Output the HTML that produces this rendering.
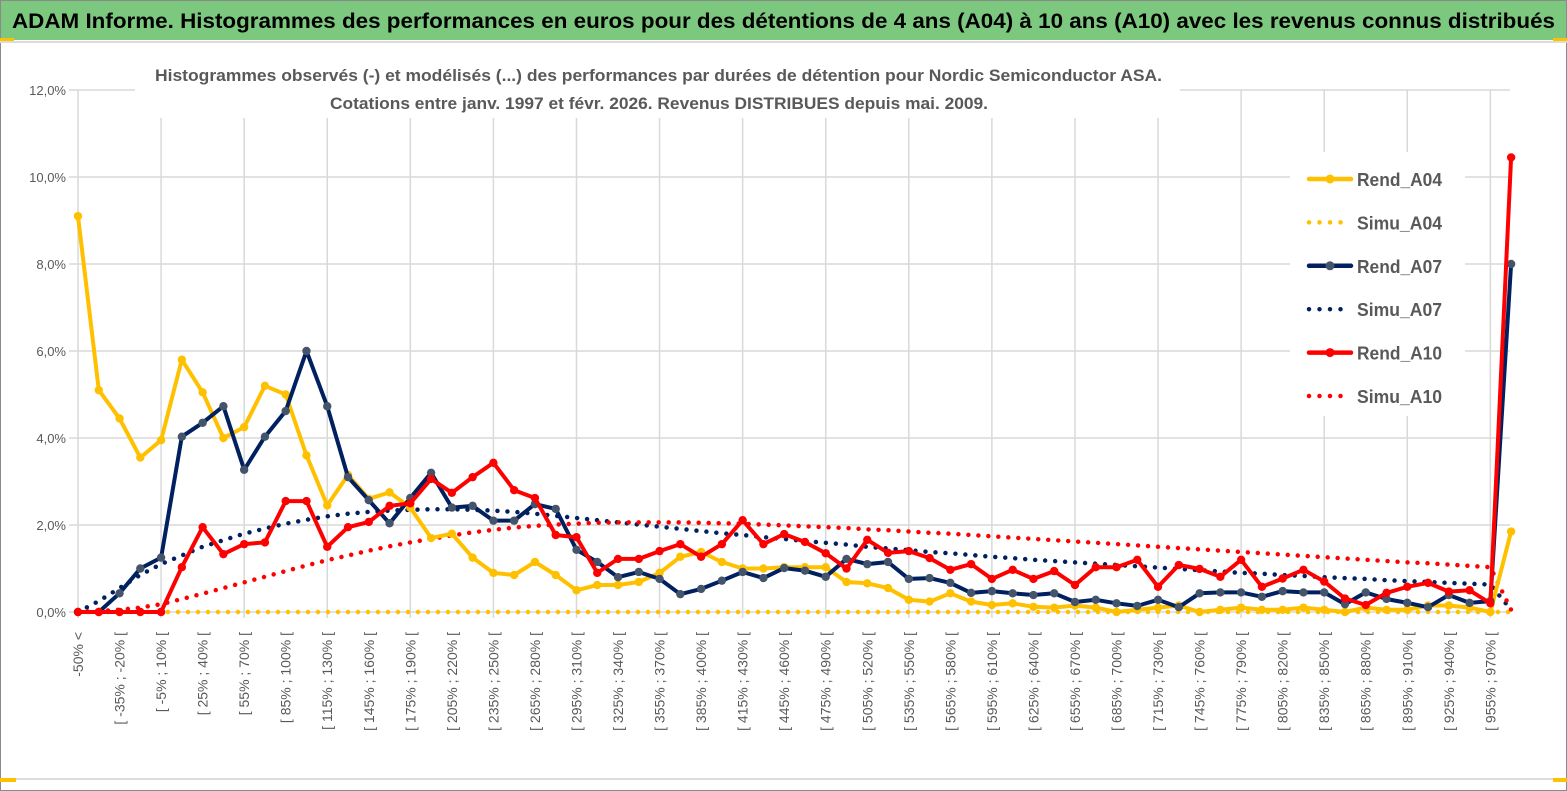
<!DOCTYPE html>
<html><head><meta charset="utf-8">
<style>
html,body{margin:0;padding:0;background:#fff;}
svg{display:block;font-family:"Liberation Sans",sans-serif;}
</style></head>
<body>
<svg id="chart" width="1567" height="791" viewBox="0 0 1567 791">
  <rect x="0" y="0" width="1567" height="791" fill="#ffffff"/>
  <rect x="0.5" y="0.5" width="1566" height="790" fill="none" stroke="#8a8a8a"/>
  <rect x="1" y="1" width="1565" height="39" fill="#7dc87f"/>
  <rect x="0" y="38" width="14" height="4" fill="#ffc000"/>
  <rect x="1553" y="38" width="14" height="4" fill="#ffc000"/>
  <line x1="0" y1="42" x2="1567" y2="42" stroke="#dcdcdc" stroke-width="2"/>
  <text x="12" y="28" font-size="21" font-weight="bold" fill="#000" textLength="1543" lengthAdjust="spacingAndGlyphs">ADAM Informe. Histogrammes des performances en euros pour des détentions de 4 ans (A04) à 10 ans (A10) avec les revenus connus distribués</text>
  <line x1="0" y1="779" x2="1567" y2="779" stroke="#dcdcdc" stroke-width="2"/>
  <rect x="0" y="778" width="16" height="4" fill="#ffc000"/>
  <rect x="1553" y="778" width="14" height="4" fill="#ffc000"/>
  <g id="grid"></g>
  <rect x="135" y="58" width="1045" height="60" fill="#fff"/>
  <text x="155" y="81" font-size="17" font-weight="bold" fill="#595959" textLength="1007" lengthAdjust="spacingAndGlyphs">Histogrammes observés (-) et modélisés (...) des performances par durées de détention pour Nordic Semiconductor ASA.</text>
  <text x="330" y="109" font-size="17" font-weight="bold" fill="#595959" textLength="658" lengthAdjust="spacingAndGlyphs">Cotations entre janv. 1997 et févr. 2026. Revenus DISTRIBUES depuis mai. 2009.</text>
  <g id="yaxis"></g>
  <g id="xaxis"></g>
  <g id="series"></g>
  <g id="legend"></g>
</svg>
<script>
const yTicks = [0, 2, 4, 6, 8, 10, 12];
const rendA04 = [9.1,5.1,4.45,3.55,3.95,5.8,5.05,4.0,4.25,5.2,5.0,3.6,2.45,3.15,2.6,2.75,2.4,1.7,1.8,1.25,0.9,0.85,1.15,0.85,0.5,0.62,0.62,0.69,0.9,1.27,1.38,1.15,1.0,1.0,1.03,1.03,1.03,0.69,0.66,0.55,0.28,0.24,0.43,0.24,0.16,0.2,0.12,0.1,0.15,0.1,0.0,0.05,0.1,0.15,0.0,0.05,0.1,0.05,0.05,0.1,0.05,0.0,0.1,0.05,0.05,0.15,0.15,0.1,0.0,1.85];
const simuA04 = [0,0,0,0,0,0,0,0,0,0,0,0,0,0,0,0,0,0,0,0,0,0,0,0,0,0,0,0,0,0,0,0,0,0,0,0,0,0,0,0,0,0,0,0,0,0,0,0,0,0,0,0,0,0,0,0,0,0,0,0,0,0,0,0,0,0,0,0,0,0];
const rendA07 = [0,0,0.43,1.0,1.25,4.03,4.35,4.73,3.27,4.03,4.62,6.0,4.73,3.1,2.57,2.04,2.62,3.2,2.4,2.44,2.1,2.1,2.48,2.37,1.43,1.15,0.8,0.92,0.76,0.41,0.53,0.72,0.92,0.78,1.01,0.95,0.81,1.22,1.1,1.15,0.76,0.78,0.67,0.44,0.48,0.43,0.39,0.43,0.23,0.28,0.2,0.14,0.28,0.11,0.43,0.45,0.45,0.35,0.48,0.45,0.45,0.18,0.45,0.3,0.21,0.11,0.39,0.21,0.25,8.0];
const simuA07 = [0,0.25,0.55,0.85,1.1,1.3,1.5,1.65,1.8,1.92,2.03,2.12,2.2,2.26,2.3,2.33,2.35,2.36,2.36,2.35,2.33,2.3,2.26,2.21,2.16,2.11,2.06,2.01,1.96,1.91,1.86,1.81,1.77,1.72,1.68,1.63,1.59,1.55,1.5,1.46,1.42,1.38,1.35,1.31,1.27,1.24,1.2,1.17,1.14,1.11,1.08,1.05,1.02,0.99,0.96,0.93,0.9,0.88,0.85,0.83,0.8,0.78,0.76,0.73,0.71,0.69,0.67,0.65,0.63,0.05];
const rendA10 = [0,0,0,0,0,1.03,1.95,1.33,1.56,1.6,2.55,2.55,1.5,1.95,2.07,2.44,2.5,3.06,2.74,3.1,3.43,2.8,2.62,1.77,1.72,0.9,1.22,1.22,1.4,1.56,1.27,1.56,2.11,1.56,1.79,1.61,1.35,1.0,1.66,1.36,1.4,1.24,0.97,1.1,0.76,0.97,0.76,0.94,0.62,1.03,1.03,1.2,0.58,1.08,0.99,0.81,1.2,0.58,0.77,0.97,0.7,0.31,0.16,0.44,0.58,0.67,0.47,0.5,0.2,10.45];
const simuA10 = [0,0.02,0.05,0.1,0.18,0.3,0.42,0.55,0.68,0.81,0.94,1.07,1.19,1.3,1.41,1.51,1.6,1.68,1.76,1.83,1.89,1.94,1.98,2.01,2.03,2.05,2.06,2.06,2.06,2.06,2.05,2.04,2.03,2.01,1.99,1.97,1.95,1.93,1.9,1.88,1.85,1.82,1.8,1.77,1.74,1.71,1.68,1.65,1.62,1.59,1.56,1.53,1.5,1.47,1.44,1.41,1.38,1.35,1.32,1.29,1.26,1.23,1.2,1.17,1.14,1.12,1.09,1.06,1.03,0.05];
const seriesNames = ["Rend_A04","Simu_A04","Rend_A07","Simu_A07","Rend_A10","Simu_A10"];

const categories = ["-50% <"];
for (let lo = -50; lo < 970; lo += 15) categories.push("[ " + lo + "% ; " + (lo + 15) + "% [");
categories.push("> 970%");

const NS = "http://www.w3.org/2000/svg";
const X0 = 78, DX = 20.77, Y0 = 612, PXPCT = 43.5;
const xAt = i => X0 + i * DX;
const yAt = v => Y0 - v * PXPCT;
function mk(tag, attrs, parent) {
  const e = document.createElementNS(NS, tag);
  for (const k in attrs) e.setAttribute(k, attrs[k]);
  parent.appendChild(e);
  return e;
}
const grid = document.getElementById('grid');
yTicks.forEach(t => {
  const l = mk('line', {x1: 69, x2: 1510, y1: yAt(t), y2: yAt(t), stroke: '#d9d9d9', 'stroke-width': 1.5}, grid);
  
  
});
for (let i = 0; i < categories.length; i += 4) {
  const l = mk('line', {x1: xAt(i), x2: xAt(i), y1: yAt(12), y2: Y0 + 6, stroke: '#d9d9d9', 'stroke-width': 1.5}, grid);
  
  
}
const yaxis = document.getElementById('yaxis');
yTicks.forEach(t => {
  const tx = mk('text', {x: 66, y: yAt(t) + 5, 'text-anchor': 'end', 'font-size': 13, fill: '#595959'}, yaxis);
  tx.textContent = t.toFixed(1).replace('.', ',') + '%';
  
  
});
const xaxis = document.getElementById('xaxis');
categories.forEach((c, i) => {
  if (i % 2 !== 0) return;
  const x = xAt(i) + 5, y = 632;
  const tx = mk('text', {x: x, y: y, 'text-anchor': 'end', 'font-size': 14, fill: '#595959', transform: 'rotate(-90 ' + x + ' ' + y + ')'}, xaxis);
  tx.textContent = c;
  
  
});

const sg = document.getElementById('series');
function pathOf(vals) { return vals.map((v, i) => (i ? 'L' : 'M') + xAt(i).toFixed(1) + ' ' + yAt(v).toFixed(1)).join(' '); }
function dotted(vals, color, name) {
  const p = mk('path', {d: pathOf(vals), fill: 'none', stroke: color, 'stroke-width': 4.5, 'stroke-linecap': 'round', 'stroke-dasharray': '0 10'}, sg);
  
  
}
function solid(vals, color, mcolor, name) {
  const p = mk('path', {d: pathOf(vals), fill: 'none', stroke: color, 'stroke-width': 4, 'stroke-linejoin': 'round'}, sg);
  
  
  vals.forEach((v, i) => {
    const c = mk('circle', {cx: xAt(i), cy: yAt(v), r: 4.2, fill: mcolor}, sg);
    
    
  });
}
dotted(simuA04, '#ffc000', 'simu-a04-line');
dotted(simuA07, '#002060', 'simu-a07-line');
dotted(simuA10, '#ff0000', 'simu-a10-line');
solid(rendA04, '#ffc000', '#ffc000', 'rend-a04-line');
solid(rendA07, '#002060', '#44546a', 'rend-a07-line');
solid(rendA10, '#ff0000', '#ff0000', 'rend-a10-line');

const lg = document.getElementById('legend');
const bg = mk('rect', {x: 1290, y: 152, width: 175, height: 264, fill: '#fff'}, lg);


const lgColors = ['#ffc000','#ffc000','#002060','#002060','#ff0000','#ff0000'];
const lgMarker = ['#ffc000',null,'#44546a',null,'#ff0000',null];
seriesNames.forEach((n, k) => {
  const y = 179 + k * 43.4;
  if (k % 2 === 0) {
    const l = mk('line', {x1: 1309, x2: 1351, y1: y, y2: y, stroke: lgColors[k], 'stroke-width': 4.5, 'stroke-linecap': 'round'}, lg);
    
    
    const c = mk('circle', {cx: 1330, cy: y, r: 4.5, fill: lgMarker[k]}, lg);
    
    
  } else {
    const l = mk('line', {x1: 1309, x2: 1351, y1: y, y2: y, stroke: lgColors[k], 'stroke-width': 4.5, 'stroke-linecap': 'round', 'stroke-dasharray': '0 10.5'}, lg);
    
    
  }
  const t = mk('text', {x: 1357, y: y + 7, 'font-size': 18, 'font-weight': 'bold', fill: '#595959', textLength: 85, lengthAdjust: 'spacingAndGlyphs'}, lg);
  t.textContent = n;
  
  
});
</script>
</body></html>
